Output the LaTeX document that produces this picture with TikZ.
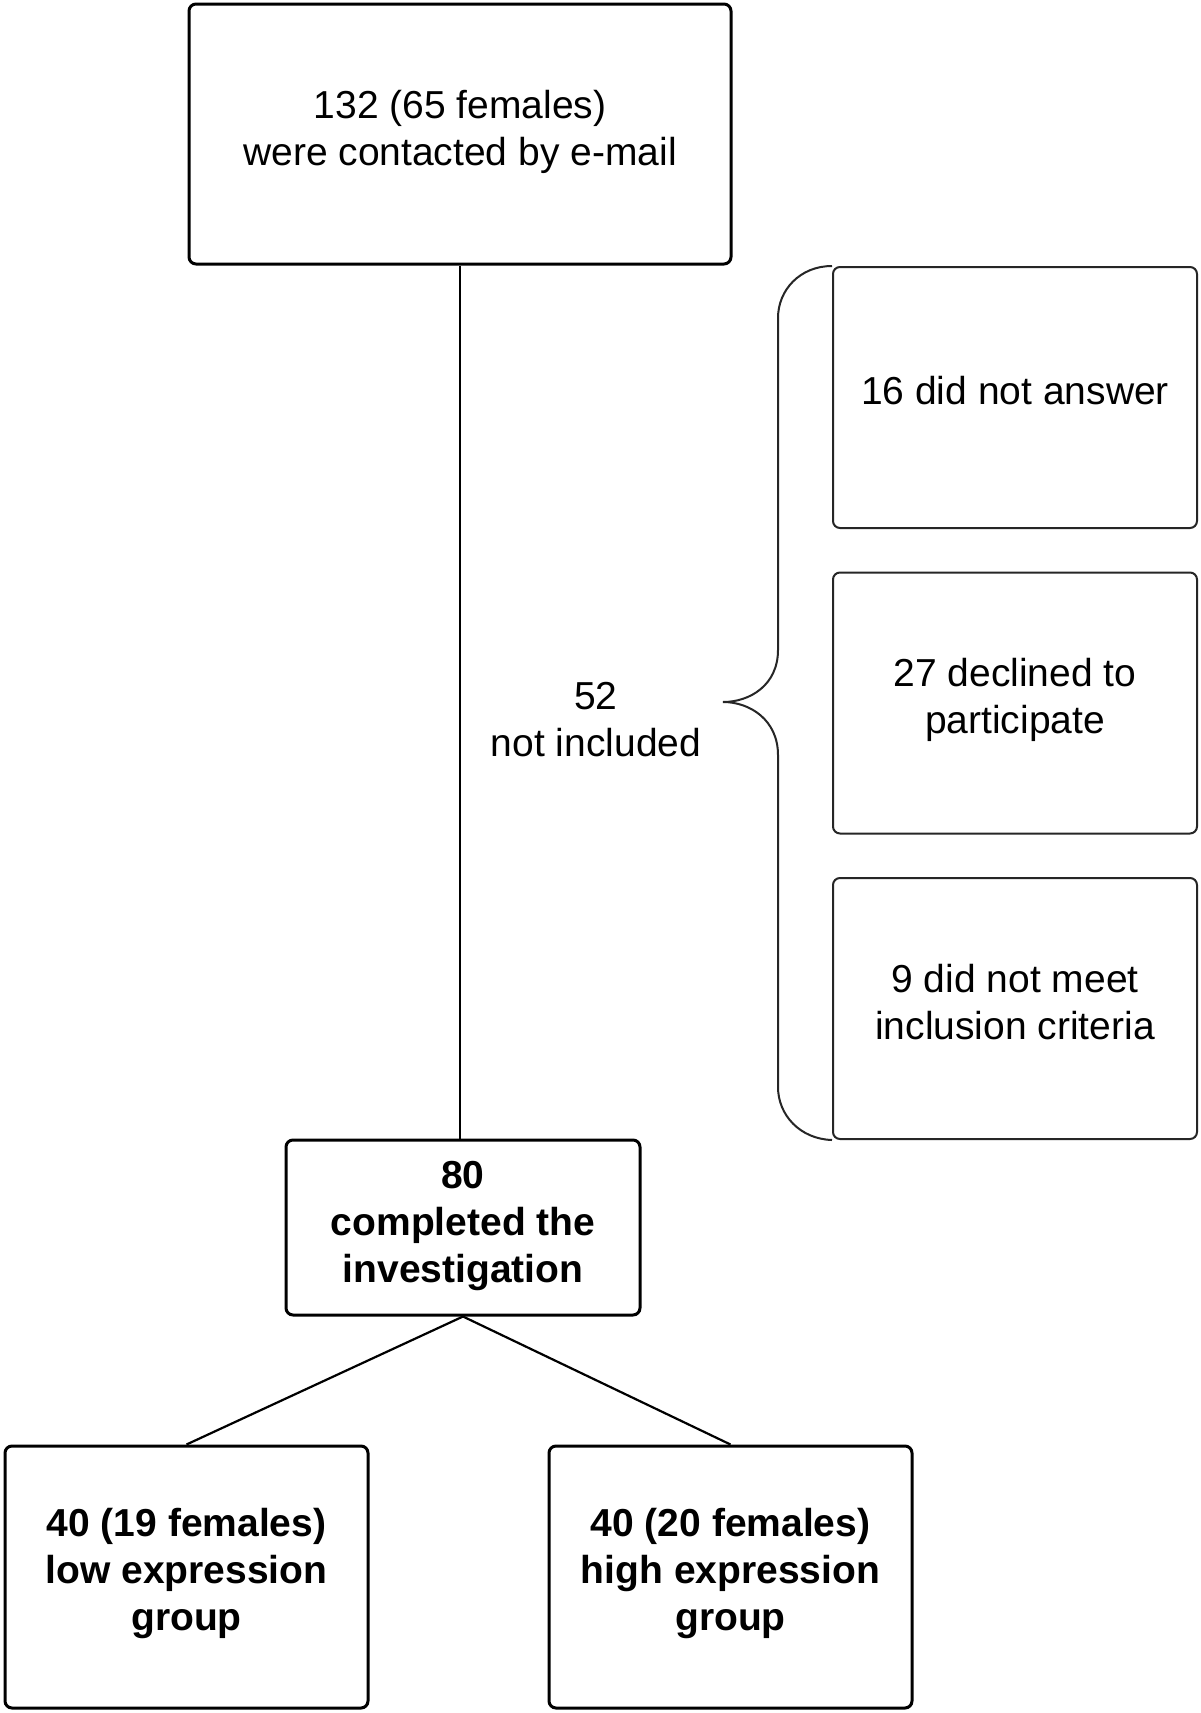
\documentclass[tikz,border=0pt]{standalone}
\usepackage{fontspec}
\setmainfont{Liberation Sans}
\begin{document}
\begin{tikzpicture}[x=0.5pt,y=-0.5pt,
  every node/.style={font=\fontsize{19.5}{23.5}\selectfont, align=center, inner sep=0pt},
  thickbox/.style={draw=black, line width=1.5pt, rounded corners=3.5pt},
  thinbox/.style={draw=black!85, line width=1pt, rounded corners=3.5pt},
  conn/.style={draw=black, line width=1.1pt},
  boldtext/.style={font=\fontsize{19.5}{23.5}\selectfont\bfseries}]
\useasboundingbox[fill=white] (0,0) rectangle (1200,1713);

\node[thickbox, minimum width=271pt, minimum height=130pt, text depth=6.1pt] (top) at (460,134)
  {132 (65 females)\\were contacted by e-mail};

\node[thinbox, minimum width=182pt, minimum height=130.5pt, text depth=6.8pt] (r1) at (1015,397.5)
  {16 did not answer};
\node[thinbox, minimum width=182pt, minimum height=130.5pt, text depth=7.3pt] (r2) at (1015,703)
  {27 declined to\\participate};
\node[thinbox, minimum width=182pt, minimum height=130.5pt, text depth=6.8pt] (r3) at (1015,1008.5)
  {9 did not meet\\inclusion criteria};

\node (lab) at (596,720) {52\\not included};

\node[thickbox, boldtext, minimum width=177pt, minimum height=87.5pt, text depth=6.1pt] (mid) at (463,1227.5)
  {80\\completed the\\investigation};

\node[thickbox, boldtext, minimum width=181.5pt, minimum height=131pt, text depth=8.1pt] (bl) at (186.5,1577)
  {40 (19 females)\\low expression\\group};
\node[thickbox, boldtext, minimum width=181.5pt, minimum height=131pt, text depth=8.1pt] (br) at (730.5,1577)
  {40 (20 females)\\high expression\\group};

\draw[conn] (top.south) -- (top.south |- mid.north);
\draw[conn] (mid.south) -- (bl.north);
\draw[conn] (mid.south) -- (br.north);

\coordinate (tip) at (723,702);
\draw[draw=black!85, line width=1pt]
  (r1.north west) .. controls (800,266) and (778,290) .. (778,318)
  -- (778,650) .. controls (778,685) and (750,702) .. (tip)
  .. controls (750,702) and (778,720) .. (778,755)
  -- (778,1087) .. controls (778,1115) and (800,1139) .. (r3.south west);
\end{tikzpicture}
\end{document}
